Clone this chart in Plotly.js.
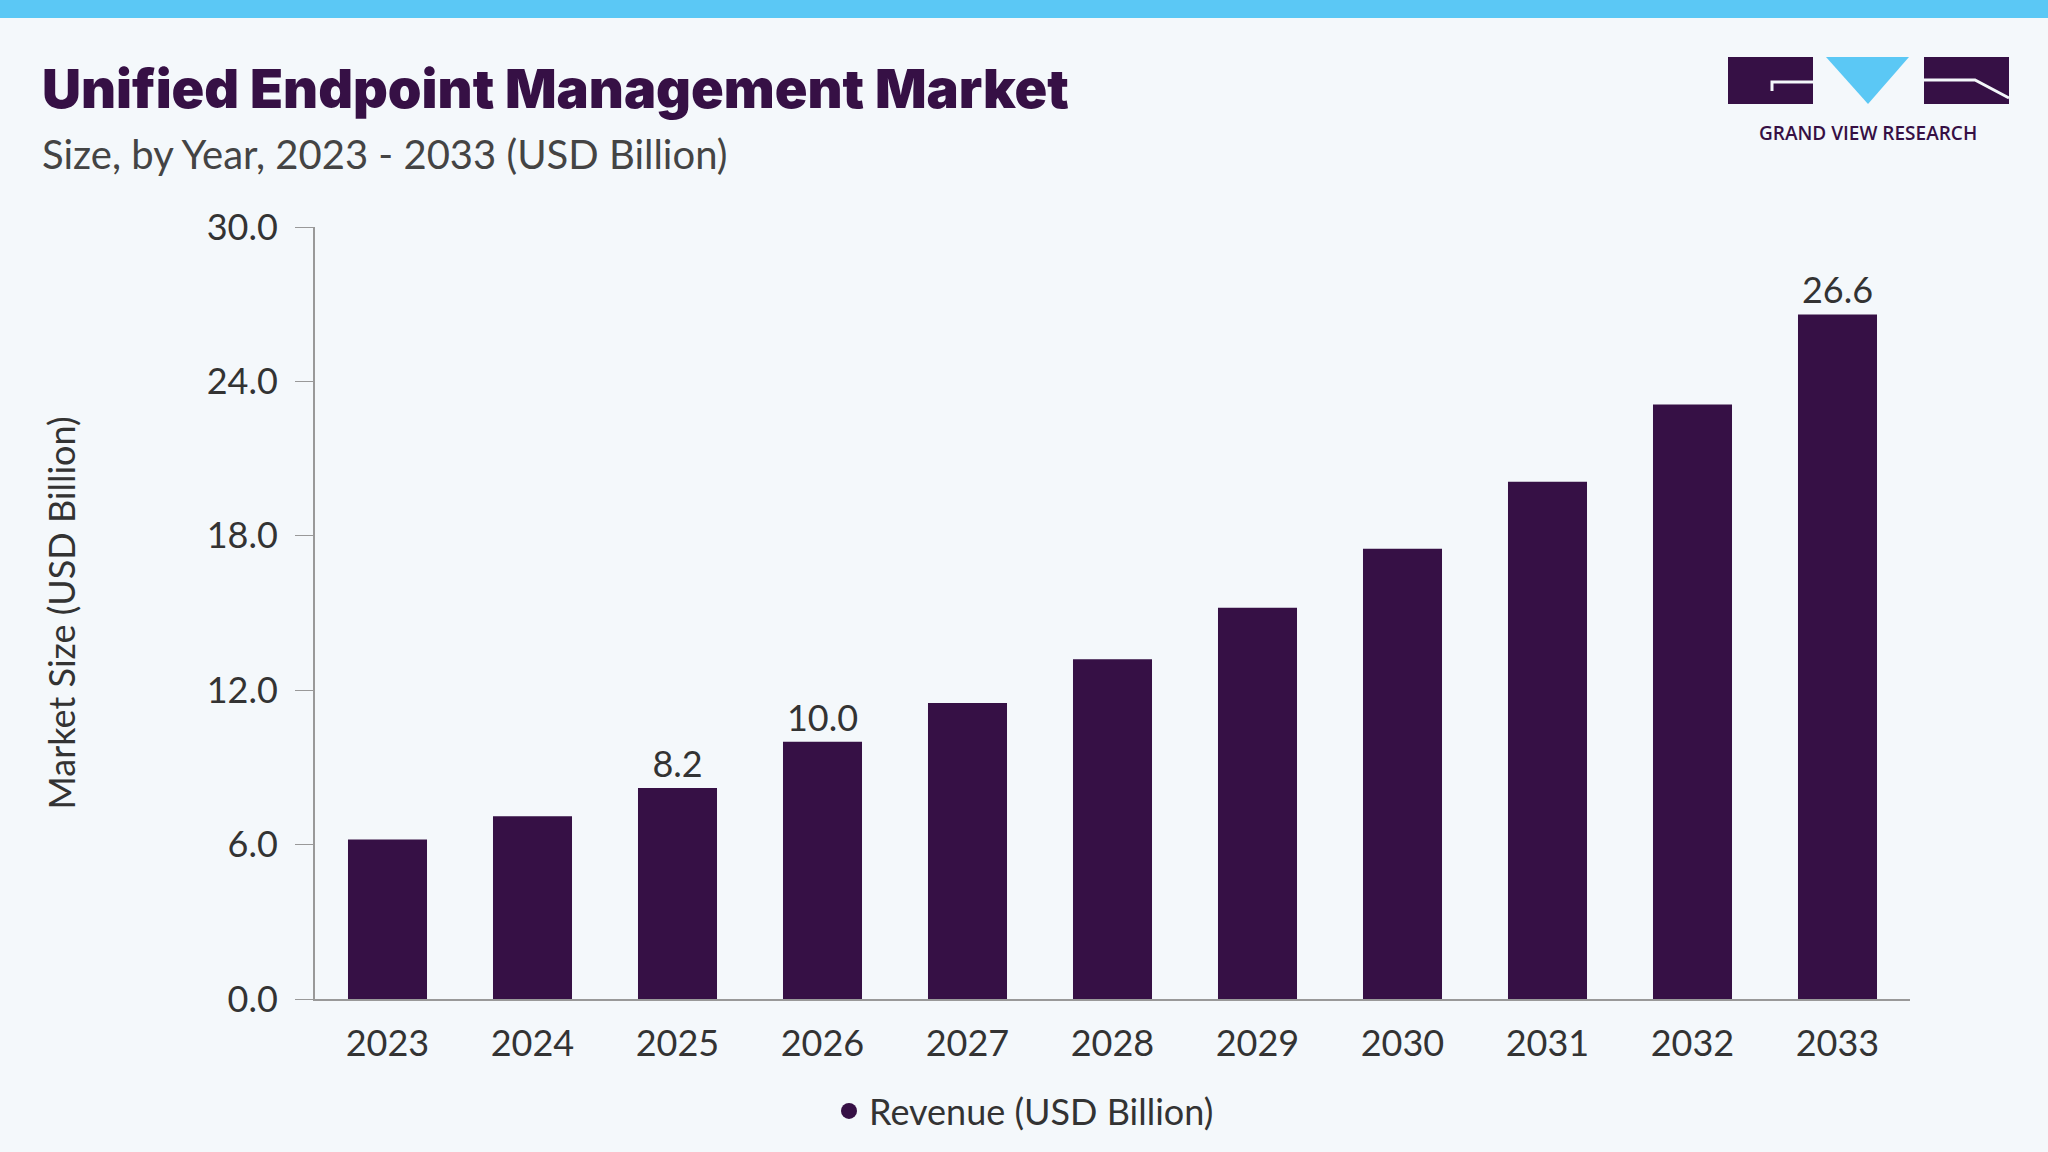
<!DOCTYPE html>
<html>
<head>
<meta charset="utf-8">
<script src="https://cdn.plot.ly/plotly-3.0.1.min.js"></script>
<style>html,body{margin:0;padding:0;background:#f4f8fb;}#chart{width:2048px;height:1152px;}</style>
</head>
<body>
<div id="chart"></div>
<script>
// Market size by year
const years = ['2023', '2024', '2025', '2026', '2027', '2028', '2029', '2030', '2031', '2032', '2033'];
const revenue = [6.2, 7.1, 8.2, 10.0, 11.5, 13.2, 15.2, 17.5, 20.1, 23.1, 26.6];
const labels = ['', '', '8.2', '10.0', '', '', '', '', '', '', '26.6'];
const yTicks = [0, 6, 12, 18, 24, 30];

const W = 2048, H = 1152;
const px = x => x / W;
const py = y => 1 - y / H;

const traces = [
  {
    x: years, y: revenue, type: 'bar', name: 'Revenue (USD Billion)', showlegend: false,
    marker: {color: '#361045'},
    text: labels, textposition: 'outside', cliponaxis: false,
    textfont: {family: 'Lato, sans-serif', size: 36, color: '#333'}
  },
  // legend entry with a round marker
  {
    x: [years[0]], y: [null], type: 'scatter', mode: 'markers', name: 'Revenue (USD Billion)',
    marker: {color: '#361045', size: 24, symbol: 'circle'}
  }
];

const layout = {
  width: W, height: H,
  margin: {l: 0, r: 0, t: 0, b: 0},
  paper_bgcolor: '#f4f8fb', plot_bgcolor: '#f4f8fb',
  font: {family: 'Lato, sans-serif', color: '#333'},
  bargap: 0.455,
  showlegend: true,
  legend: {orientation: 'h', x: 0.5, xanchor: 'center', y: py(1111), yanchor: 'middle', font: {size: 36, color: '#333'}},
  xaxis: {
    type: 'category', range: [-0.5, years.length - 0.5], domain: [px(315), px(1910)],
    showline: true, linecolor: '#999', linewidth: 2,
    ticks: '', tickfont: {size: 36, color: '#333'}, ticklabelstandoff: 12
  },
  yaxis: {
    domain: [py(999), py(227)], range: [0, 30], tickvals: yTicks, tickformat: '.1f',
    showline: true, linecolor: '#999', linewidth: 2, showgrid: false, zeroline: false,
    ticks: 'outside', ticklen: 18, tickcolor: '#999', tickfont: {size: 36, color: '#333'},
    ticklabelstandoff: 10,
    title: {text: 'Market Size (USD Billion)', font: {size: 36, color: '#333'}, standoff: 120}
  },
  shapes: [
    {type: 'rect', xref: 'paper', yref: 'paper', x0: 0, x1: 1, y0: py(18), y1: 1, fillcolor: '#5bc8f5', line: {width: 0}},
    {type: 'rect', xref: 'paper', yref: 'paper', x0: px(1728), x1: px(1813), y0: py(104), y1: py(57), fillcolor: '#361045', line: {width: 0}},
    {type: 'path', xref: 'paper', yref: 'paper', path: `M ${px(1826)} ${py(57)} L ${px(1909)} ${py(57)} L ${px(1868)} ${py(104)} Z`, fillcolor: '#5bc8f5', line: {width: 0}},
    {type: 'rect', xref: 'paper', yref: 'paper', x0: px(1924), x1: px(2009), y0: py(104), y1: py(57), fillcolor: '#361045', line: {width: 0}},
    {type: 'path', xref: 'paper', yref: 'paper', path: `M ${px(1813)} ${py(82)} L ${px(1772)} ${py(82)} L ${px(1772)} ${py(91)}`, line: {color: '#f4f8fb', width: 3}},
    {type: 'path', xref: 'paper', yref: 'paper', path: `M ${px(1924)} ${py(80)} L ${px(1975)} ${py(80)} L ${px(2009)} ${py(98)}`, line: {color: '#f4f8fb', width: 3}}
  ],
  annotations: [
    {xref: 'paper', yref: 'paper', x: px(40), y: py(89), xanchor: 'left', yanchor: 'middle', showarrow: false,
     text: 'Unified Endpoint Management Market', font: {family: 'Inter, sans-serif', size: 54, weight: 900, color: '#361045'}},
    {xref: 'paper', yref: 'paper', x: px(40), y: py(154), xanchor: 'left', yanchor: 'middle', showarrow: false,
     text: 'Size, by Year, 2023 - 2033 (USD Billion)', font: {size: 40, color: '#444'}},
    {xref: 'paper', yref: 'paper', x: px(1868), y: py(133), xanchor: 'center', yanchor: 'middle', showarrow: false,
     text: 'GRAND VIEW RESEARCH', font: {family: 'Open Sans, sans-serif', size: 19, weight: 600, color: '#361045'}}
  ]
};

Plotly.newPlot('chart', traces, layout, {displayModeBar: false});
</script>
</body>
</html>
